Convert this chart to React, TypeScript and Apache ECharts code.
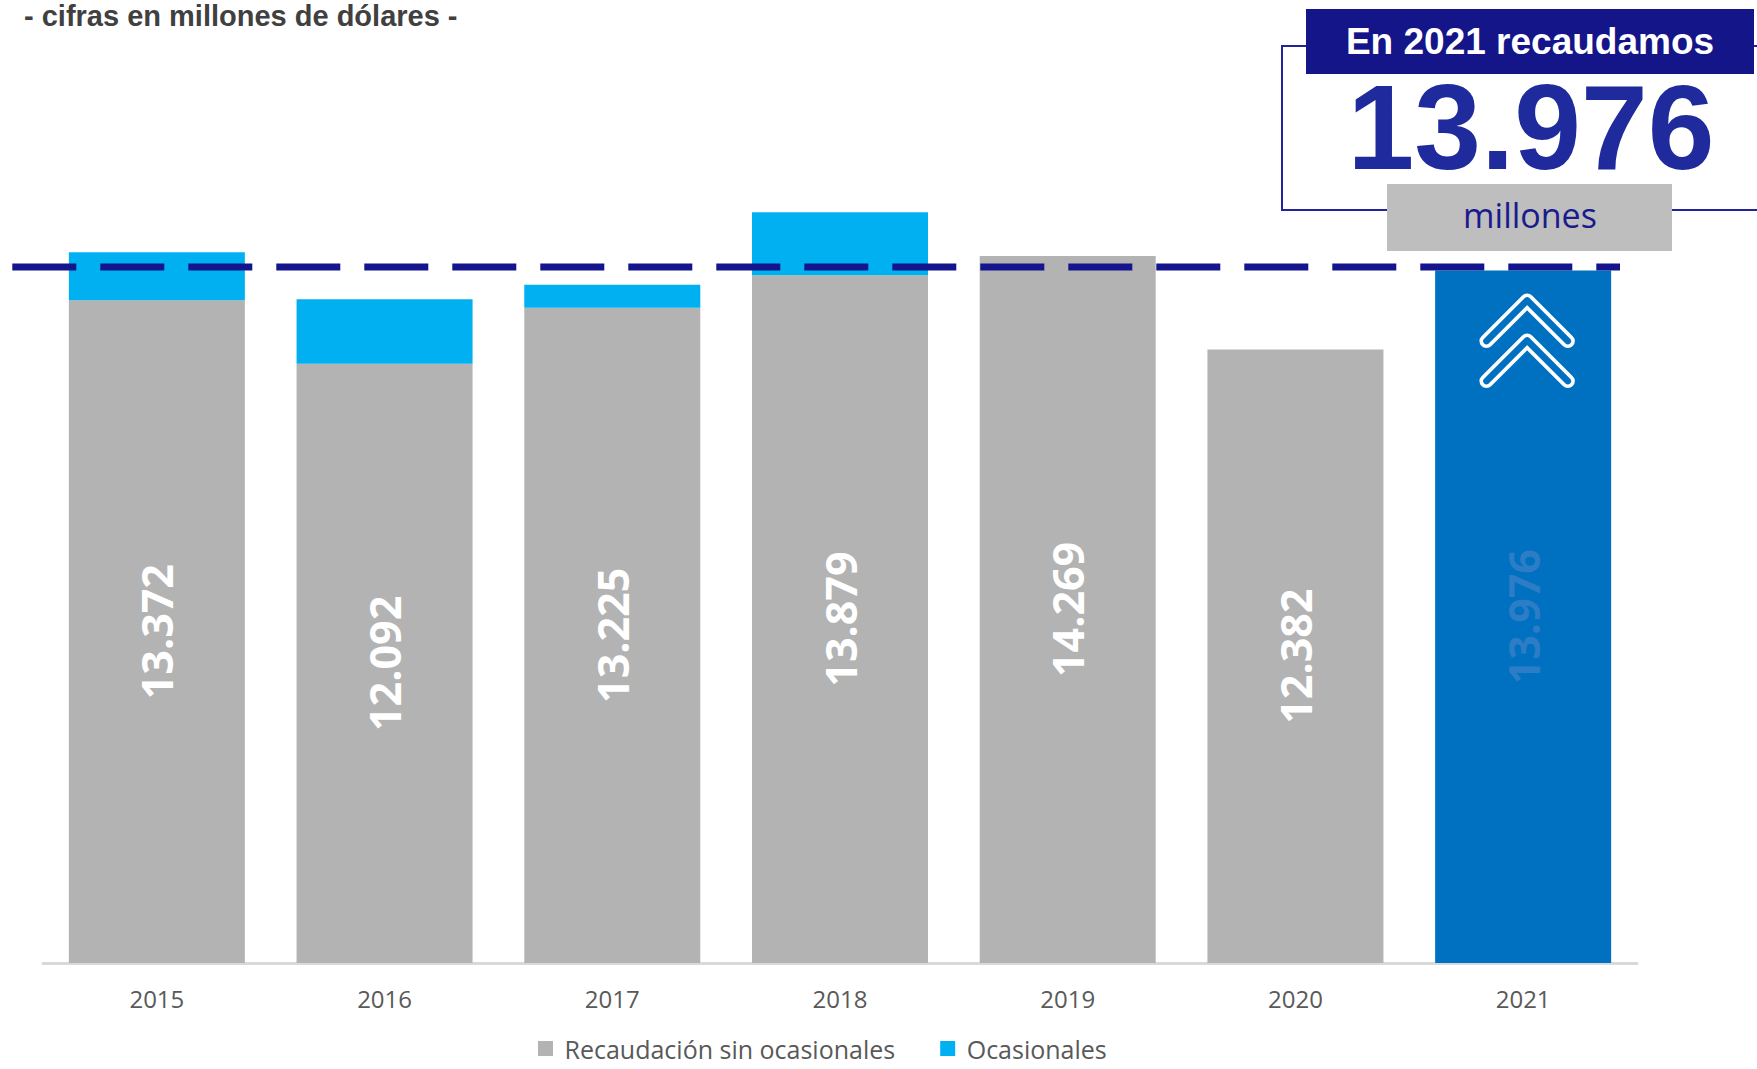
import React, { useEffect, useRef } from "react";
import * as echarts from "echarts";

const categories = ["2015", "2016", "2017", "2018", "2019", "2020", "2021"];
const baseValues = [13372, 12092, 13225, 13879, 14269, 12382, 13976];
const occasionalValues: (number | null)[] = [971, 1303, 461, 1271, null, null, null];
const highlightYear = "2021";
const referenceLevel = 13976;
const seriesNames = ["Recaudación sin ocasionales", "Ocasionales"];
const subtitle = "- cifras en millones de dólares -";
const calloutTitle = "En 2021 recaudamos";
const calloutValue = "13.976";
const calloutUnit = "millones";

const fmt = (v: number) => {
  const th = Math.floor(v / 1000);
  const rest = String(v % 1000).padStart(3, "0");
  return `${th}.${rest}`;
};

export default function App() {
  const ref = useRef<HTMLDivElement>(null);
  useEffect(() => {
    if (!ref.current) return;
    const chart = echarts.init(ref.current, null, { renderer: "svg" });
    const navy = "#14148c";
    chart.setOption({
      animation: false,
      grid: { left: 43, right: 120, top: 71, bottom: 106 },
      xAxis: {
        type: "category",
        data: categories,
        offset: 1,
        axisTick: { show: false },
        axisLine: { lineStyle: { color: "#d9d9d9", width: 3 } },
        axisLabel: {
          margin: 22,
          color: "#595959",
          fontFamily: "Open Sans",
          fontSize: 24,
        },
      },
      yAxis: { type: "value", min: 0, max: 18000, show: false },
      legend: {
        data: seriesNames,
        left: 533,
        top: 1031,
        padding: 5,
        itemWidth: 15,
        itemHeight: 15,
        itemGap: 45,
        icon: "rect",
        formatter: (name: string) => "\u00a0" + name,
        textStyle: {
          fontFamily: "Open Sans",
          fontSize: 25,
          color: "#595959",
        },
      },
      series: [
        {
          name: seriesNames[0],
          type: "bar",
          stack: "total",
          barWidth: 176,
          itemStyle: { color: "#b3b3b3" },
          label: {
            show: true,
            position: "inside",
            rotate: 90,
            color: "#ffffff",
            fontFamily: "Open Sans",
            fontWeight: "bold",
            fontSize: 43,
            formatter: (p: any) => fmt(p.value),
          },
          data: baseValues.map((v, i) =>
            categories[i] === highlightYear
              ? { value: v, itemStyle: { color: "#0070c0" }, label: { color: "#2c7cc6" } }
              : v
          ),
        },
        {
          name: seriesNames[1],
          type: "bar",
          stack: "total",
          barWidth: 176,
          itemStyle: { color: "#00b0f0" },
          data: occasionalValues.map((v) => (v == null ? "-" : v)),
        },
      ],
    });

    const [hx, hy] = chart.convertToPixel({ xAxisIndex: 0, yAxisIndex: 0 }, [
      highlightYear,
      referenceLevel,
    ]) as number[];
    const lineY = hy - 3.4;
    const chevron = (dy: number) => {
      const cx = hx + 4;
      const ay = hy + 30 + dy;
      return [
        [cx - 40.7, ay + 40.7],
        [cx, ay],
        [cx + 40.7, ay + 40.7],
      ];
    };

    chart.setOption({
      graphic: [
        {
          type: "text",
          z: 20,
          x: 24,
          y: 16,
          style: {
            text: subtitle,
            fontFamily: "Liberation Sans",
            fontWeight: "bold",
            fontSize: 29,
            fill: "#404040",
            align: "left",
            verticalAlign: "middle",
          },
        },
        {
          type: "rect",
          z: 20,
          shape: { x: 1282, y: 46, width: 520, height: 164 },
          style: { fill: "none", stroke: "#2323a0", lineWidth: 2 },
        },
        {
          type: "rect",
          z: 21,
          shape: { x: 1306, y: 9, width: 448, height: 65 },
          style: { fill: "#15158a" },
        },
        {
          type: "text",
          z: 22,
          x: 1530,
          y: 41,
          style: {
            text: calloutTitle,
            fontFamily: "Liberation Sans",
            fontWeight: "bold",
            fontSize: 37,
            fill: "#ffffff",
            align: "center",
            verticalAlign: "middle",
          },
        },
        {
          type: "text",
          z: 22,
          x: 1531,
          y: 127,
          style: {
            text: calloutValue,
            fontFamily: "Liberation Sans",
            fontWeight: "bold",
            fontSize: 120,
            fill: "#1f2a9c",
            align: "center",
            verticalAlign: "middle",
          },
        },
        {
          type: "rect",
          z: 21,
          shape: { x: 1387, y: 184, width: 285, height: 67 },
          style: { fill: "#bebebe" },
        },
        {
          type: "text",
          z: 22,
          x: 1530,
          y: 215,
          style: {
            text: calloutUnit,
            fontFamily: "Open Sans",
            fontSize: 34,
            fill: "#1a1a8c",
            align: "center",
            verticalAlign: "middle",
          },
        },
        {
          type: "line",
          z: 20,
          shape: { x1: 12.3, y1: lineY, x2: 1620, y2: lineY },
          style: { stroke: navy, lineWidth: 7, lineDash: [64, 24], lineCap: "butt" },
        },
        ...[0, 40].flatMap((dy) => [
          {
            type: "polyline",
            z: 20,
            shape: { points: chevron(dy) },
            style: { stroke: "#ffffff", lineWidth: 14, fill: "none", lineCap: "round", lineJoin: "round" },
          },
          {
            type: "polyline",
            z: 21,
            shape: { points: chevron(dy) },
            style: { stroke: "#0070c0", lineWidth: 6.5, fill: "none", lineCap: "round", lineJoin: "round" },
          },
        ]),
      ],
    });
    return () => chart.dispose();
  }, []);
  return (
    <div
      ref={ref}
      style={{ position: "fixed", left: 0, top: 0, width: 1757, height: 1069, background: "#fff" }}
    />
  );
}
